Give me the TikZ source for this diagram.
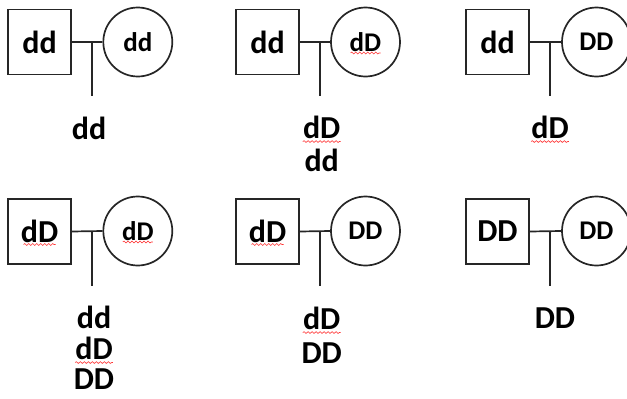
\documentclass[tikz,border=0pt]{standalone}
\usepackage{fontspec}
\setmainfont{Carlito}
\usetikzlibrary{decorations.pathmorphing}
\begin{document}
\begin{tikzpicture}[x=1pt,y=-1pt,
  line/.style={line width=1.7pt, draw=black!85},
  sq/.style={line, draw, minimum width=63pt, minimum height=65pt, inner sep=0pt, font=\fontsize{32}{34}\selectfont\bfseries},
  ci/.style={line, draw, circle, minimum size=69pt, inner sep=0pt, font=\fontsize{27}{29}\selectfont\bfseries},
  lab/.style={inner sep=0pt, font=\fontsize{32}{34}\selectfont\bfseries},
  squiggle/.style={draw=red!80, line width=0.6pt, decorate, decoration={snake, segment length=4pt, amplitude=0.9pt}}]
\useasboundingbox (0,0) rectangle (627,399);
\clip (0,0) rectangle (627,399);
% panel 1
\node[sq] (s1) at (39.5,42) {dd};
\node[ci] (c1) at (137.8,42) {dd};
\coordinate (j1) at (92,42);
\coordinate (e1) at (92,96);
\draw[line] (s1.east) -- (c1.west);
\draw[line] (j1) -- (e1);
\node[lab] (k1a) at (89,128) {dd};
% panel 2
\node[sq] (s2) at (267.5,42) {dd};
\node[ci] (c2) at (365.5,42) {dD};
\coordinate (j2) at (320,42);
\coordinate (e2) at (320,96);
\draw[line] (s2.east) -- (c2.west);
\draw[line] (j2) -- (e2);
\node[lab] (k2a) at (321.7,127) {dD};
\node[lab] (k2b) at (321.7,160) {dd};
% panel 3
\node[sq] (s3) at (497.5,42) {dd};
\node[ci] (c3) at (596.5,42) {DD};
\coordinate (j3) at (550,42);
\coordinate (e3) at (550,96);
\draw[line] (s3.east) -- (c3.west);
\draw[line] (j3) -- (e3);
\node[lab] (k3a) at (550,127) {dD};
% panel 4
\node[sq] (s4) at (39.5,231.5) {dD};
\node[ci] (c4) at (137.8,231) {dD};
\coordinate (j4) at (92,231);
\coordinate (e4) at (92,286);
\draw[line] (s4.east) -- (c4.west);
\draw[line] (j4) -- (e4);
\node[lab] (k4a) at (94,317) {dd};
\node[lab] (k4b) at (94,348) {dD};
\node[lab] (k4c) at (94,379) {DD};
% panel 5
\node[sq] (s5) at (267.5,231.5) {dD};
\node[ci] (c5) at (365.5,231) {DD};
\coordinate (j5) at (320,231);
\coordinate (e5) at (320,286);
\draw[line] (s5.east) -- (c5.west);
\draw[line] (j5) -- (e5);
\node[lab] (k5a) at (321.7,318) {dD};
\node[lab] (k5b) at (321.7,353) {DD};
% panel 6
\node[sq] (s6) at (497.5,231.5) {DD};
\node[ci] (c6) at (596.5,231) {DD};
\coordinate (j6) at (550,231);
\coordinate (e6) at (550,286);
\draw[line] (s6.east) -- (c6.west);
\draw[line] (j6) -- (e6);
\node[lab] (k6a) at (555,318) {DD};
% spell-check squiggles
\foreach \n in {k2a,k3a,k4b,k5a} {
  \path[squiggle] ([yshift=-3pt]\n.south west) -- ([yshift=-3pt]\n.south east);
}
\foreach \n in {c2,c4} {
  \path[squiggle] ([xshift=-15pt,yshift=-11pt]\n.center) -- ([xshift=15pt,yshift=-11pt]\n.center);
}
\foreach \n in {s4,s5} {
  \path[squiggle] ([xshift=-16pt,yshift=-13pt]\n.center) -- ([xshift=16pt,yshift=-13pt]\n.center);
}
\end{tikzpicture}
\end{document}
